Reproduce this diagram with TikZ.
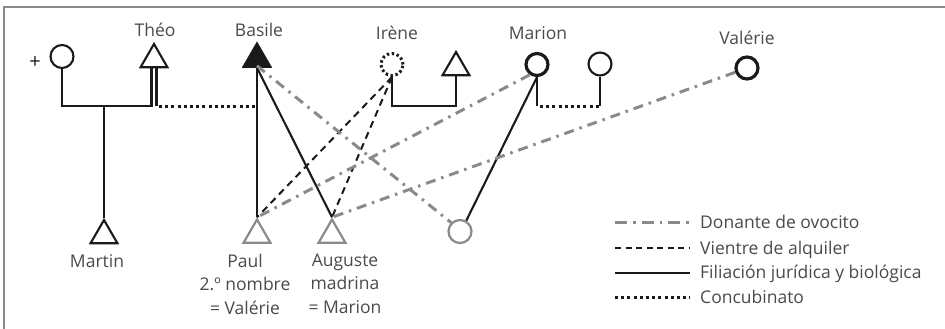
\documentclass[tikz,border=0pt]{standalone}
\usepackage{fontspec}
\setmainfont{Open Sans}
\usetikzlibrary{shapes.geometric}
\definecolor{txt}{HTML}{4A4A4A}
\definecolor{ink}{HTML}{1A1A1A}
\definecolor{lgray}{HTML}{8A8A8A}
\begin{document}
\begin{tikzpicture}[x=1pt,y=-1pt,
  tri/.style={regular polygon,regular polygon sides=3,minimum size=31pt,inner sep=0pt,draw=ink,line width=2.1pt,fill=white},
  circ/.style={circle,minimum size=23pt,inner sep=0pt,draw=ink,line width=2.1pt,fill=white},
  thickc/.style={circ,line width=3.2pt,minimum size=22pt},
  grayn/.style={draw=lgray,line width=2.2pt},
  lbl/.style={font=\fontsize{17.5}{20}\selectfont,text=txt,anchor=base,inner sep=0pt},
  solidl/.style={draw=ink,line width=2.1pt},
  dashedl/.style={draw=ink,line width=2pt,dash pattern=on 7pt off 5pt},
  dottedl/.style={draw=ink,line width=3pt,dash pattern=on 3pt off 3.2pt},
  donor/.style={draw=lgray,line width=3pt,dash pattern=on 10pt off 6pt on 2.5pt off 6pt}]
\useasboundingbox (0,0) rectangle (945,329);
\draw[lgray,line width=1.5pt] (945,7) -- (4,7) -- (4,329);
% top generation
\node[circ] (dead) at (62,56.5) {};
\node[lbl,font=\fontsize{20}{22}\selectfont,text=ink] (plus) at (35,68) {+};
\node[tri] (theo) at (154,59.5) {};
\node[tri,fill=ink] (basile) at (257,59) {};
\node[circ,draw=none] (irene) at (392,64.5) {};
\draw[ink,line width=3pt,dash pattern=on 2.4pt off 2.6pt] (irene.center) circle (11pt);
\node[tri] (irenep) at (456,67.5) {};
\node[thickc] (marion) at (537,64.5) {};
\node[circ] (mp) at (600,64) {};
\node[thickc] (valerie) at (747,68) {};
% bottom generation
\node[tri] (martin) at (104,235.5) {};
\node[tri,grayn] (paul) at (257,235) {};
\node[tri,grayn] (auguste) at (332,235) {};
\node[circ,grayn] (donee) at (460,231.5) {};
% labels
\node[lbl] (ltheo) at (155,37) {Théo};
\node[lbl] (lbasile) at (259,37) {Basile};
\node[lbl] (lirene) at (397,40) {Irène};
\node[lbl] (lmarion) at (538,40) {Marion};
\node[lbl] (lvalerie) at (747,45) {Valérie};
\node[lbl] (lmartin) at (97,267) {Martin};
\node[lbl] (lpaul1) at (245,267) {Paul};
\node[lbl] (lpaul2) at (245,290) {2.º nombre};
\node[lbl] (lpaul3) at (245,314) {= Valérie};
\node[lbl] (laug1) at (345,266) {Auguste};
\node[lbl] (laug2) at (345,289) {madrina};
\node[lbl] (laug3) at (345,313) {= Marion};
% junction coordinates
\coordinate (bar) at (0,106);
% family of the dead woman and Théo
\draw[solidl] (dead.south) -- (dead.south |- bar) -| ([xshift=-2.5pt]theo.south);
\draw[solidl] ([xshift=2.5pt]theo.south) -- ([xshift=2.5pt]theo.south |- bar);
\draw[dottedl] ([xshift=5pt]theo.south |- bar) -- (basile.south |- bar);
\draw[solidl] (martin.corner 1 |- bar) -- (martin.corner 1);
% Irène couple
\draw[solidl] (irene.south) -- (irene.south |- bar) -| (irenep.south);
% Marion couple
\draw[solidl] (marion.south) -- (marion.south |- bar);
\draw[dottedl] ([xshift=3pt]marion.south |- bar) -- (mp.south |- bar);
\draw[solidl] (mp.south |- bar) -- (mp.south);
% filiation
\draw[solidl] (basile.south) -- (paul.corner 1);
\draw[solidl] (basile.south) -- (auguste.corner 1);
\draw[solidl] (marion.south) -- (donee.60);
% surrogacy
\draw[dashedl] (irene.south) -- (paul.corner 1);
\draw[dashedl] (irene.south) -- (auguste.corner 1);
% oocyte donation
\draw[donor] ([yshift=2pt]basile.south) -- (donee.135);
\draw[donor] (marion.235) -- (paul.corner 1);
\draw[donor] (valerie.200) -- (auguste.corner 1);
% legend
\coordinate (la) at (615,222);
\coordinate (lb) at (690,222);
\draw[donor,dash pattern=on 12pt off 6pt on 2.5pt off 6pt] (la) -- (lb);
\draw[dashedl,dash pattern=on 6pt off 4.5pt] ([yshift=-26pt]la) -- ([yshift=-26pt]lb);
\draw[solidl] ([yshift=-51pt]la) -- ([yshift=-51pt]lb);
\draw[dottedl] ([yshift=-75pt]la) -- ([yshift=-75pt]lb);
\node[lbl,anchor=base west] (leg1) at (700,228) {Donante de ovocito};
\node[lbl,anchor=base west] (leg2) at (700,254) {Vientre de alquiler};
\node[lbl,anchor=base west] (leg3) at (700,278) {Filiación jurídica y biológica};
\node[lbl,anchor=base west] (leg4) at (700,303) {Concubinato};
\end{tikzpicture}
\end{document}
